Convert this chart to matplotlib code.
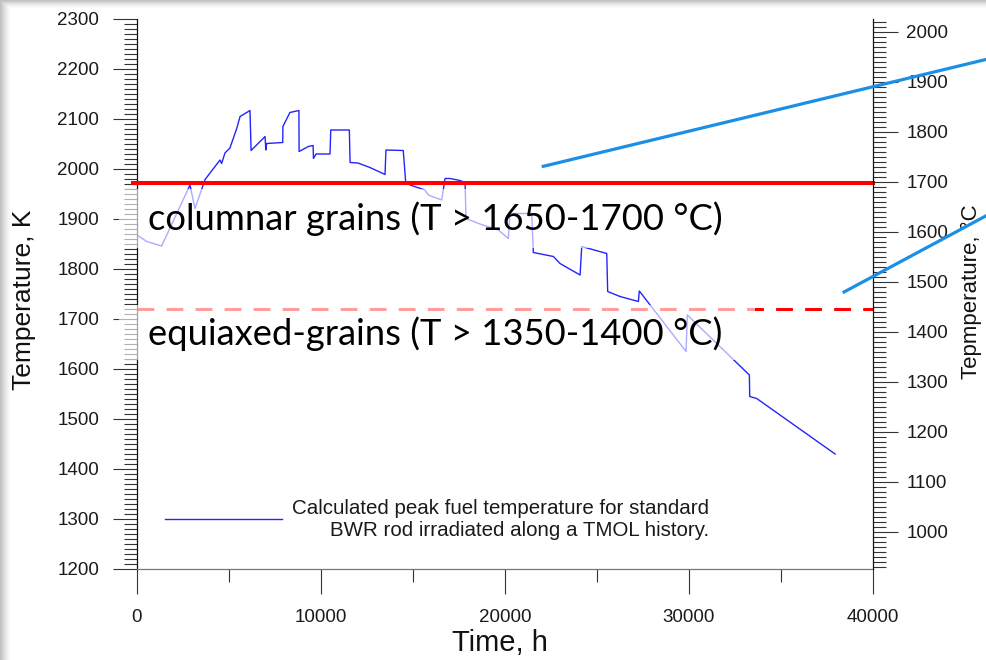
import numpy as np
import matplotlib
matplotlib.use("Agg")
import matplotlib.pyplot as plt
from matplotlib.patches import Rectangle
from matplotlib.lines import Line2D
from matplotlib.ticker import MultipleLocator

# peak fuel temperature along the irradiation history (h, K)
time_h = [0, 530, 1340, 2880, 3150, 3700, 4510, 4600, 4780, 5050, 5420, 5600, 5960, 6140,
          6200, 6500, 6960, 7000, 7050, 7920, 7930, 8310, 8800, 8810, 9310, 9570, 9590,
          9730, 10490, 10530, 11540, 11580, 12010, 12660, 13480, 13530, 14470, 14600,
          14840, 15650, 15830, 16560, 16740, 17010, 17550, 17830, 17880, 18640, 19640,
          20180, 20270, 21450, 21540, 22630, 22990, 24080, 24170, 25530, 25580, 26250,
          27250, 27300, 29840, 29910, 33280, 33300, 33680, 37940]
temp_k = [1867, 1854, 1845, 1967, 1920, 1978, 2017, 2010, 2031, 2041, 2080, 2104, 2112, 2116,
          2036, 2047, 2064, 2037, 2050, 2052, 2084, 2112, 2116, 2034, 2044, 2046, 2020,
          2029, 2029, 2077, 2077, 2012, 2011, 2002, 1988, 2037, 2036, 1974,
          1967, 1957, 1947, 1937, 1980, 1980, 1976, 1972, 1900, 1889, 1877,
          1860, 1910, 1910, 1832, 1824, 1810, 1787, 1844, 1830, 1754, 1744,
          1734, 1755, 1634, 1707, 1587, 1544, 1540, 1429]

columnar_k = 1972
equiaxed_k = 1720

legend_label = ("Calculated peak fuel temperature for standard\n"
                "BWR rod irradiated along a TMOL history.")
columnar_text = "columnar grains (T > 1650-1700 \u00b0C)"
equiaxed_text = "equiaxed-grains (T > 1350-1400 \u00b0C)"

W, H = 987, 660
fig = plt.figure(figsize=(W / 100, H / 100), dpi=100)
fig.patch.set_facecolor("white")

# soft slide shadow along the top and left edges
yy, xx = np.mgrid[0:H, 0:W]
fade = np.maximum(np.clip(1 - yy / 8.0, 0, 1), np.clip(1 - xx / 11.0, 0, 1)) ** 1.4
shadow = np.zeros((H, W, 4))
shadow[..., :3] = 0.6
shadow[..., 3] = fade * 0.6
fig.figimage(shadow, xo=0, yo=0, origin="upper")

ax = fig.add_axes([137 / W, 91.5 / H, 736 / W, 550 / H])
ax.patch.set_alpha(0)
ax.set_xlim(0, 40000)
ax.set_ylim(1200, 2300)

tick_font = "Liberation Sans"
ax.xaxis.set_major_locator(MultipleLocator(10000))
ax.xaxis.set_minor_locator(MultipleLocator(5000))
ax.yaxis.set_major_locator(MultipleLocator(100))
ax.yaxis.set_minor_locator(MultipleLocator(10))
ax.tick_params(axis="y", which="major", direction="out", length=17.3, width=0.8,
               color="#333333", pad=10, labelsize=13.5, labelcolor="#1a1a1a")
ax.tick_params(axis="y", which="minor", direction="out", length=9.4, width=0.8, color="#333333")
ax.tick_params(axis="x", which="major", direction="out", length=18, width=0.8,
               color="#333333", pad=11, labelsize=13.5, labelcolor="#1a1a1a")
ax.tick_params(axis="x", which="minor", direction="out", length=9.5, width=0.8, color="#333333")
for lab in ax.get_xticklabels() + ax.get_yticklabels():
    lab.set_fontfamily(tick_font)
ax.spines["top"].set_visible(False)
ax.spines["right"].set_visible(False)
ax.spines["left"].set_color("#111111")
ax.spines["left"].set_linewidth(0.9)
ax.spines["bottom"].set_color("#777777")
ax.spines["bottom"].set_linewidth(0.9)

ax.set_ylabel("Temperature, K", fontsize=19, family=tick_font, color="#111111")
ax.yaxis.set_label_coords(-0.137, 0.488)
ax.set_xlabel("Time, h", fontsize=21, family=tick_font, color="#111111")
ax.xaxis.set_label_coords(0.493, -0.11)

# right axis in degrees Celsius
ax2 = ax.twinx()
ax2.set_ylim(1200 - 273.15, 2300 - 273.15)
ax2.yaxis.set_major_locator(MultipleLocator(100))
ax2.yaxis.set_minor_locator(MultipleLocator(10))
ax2.set_yticks(np.arange(1000, 2001, 100))
ax2.tick_params(axis="y", which="major", direction="out", length=18, width=0.8,
                color="#333333", pad=6, labelsize=13.5, labelcolor="#1a1a1a")
ax2.tick_params(axis="y", which="minor", direction="out", length=9.4, width=0.8, color="#333333")
for lab in ax2.get_yticklabels():
    lab.set_fontfamily(tick_font)
for side in ("left", "top", "bottom"):
    ax2.spines[side].set_visible(False)
ax2.spines["right"].set_color("#111111")
ax2.spines["right"].set_linewidth(0.9)
ax2.set_ylabel("Tepmperature, \u00b0C", fontsize=16, family=tick_font, color="#111111")
ax2.yaxis.set_label_coords(1.119, 0.503)

# fuel temperature curve and legend
ax.plot(time_h, temp_k, color="#2424ff", lw=1.0, zorder=2, label=legend_label)
leg = ax.legend(loc="center left", bbox_to_anchor=(28 / 736, 49.5 / 550), frameon=False,
                borderpad=0, borderaxespad=0, handlelength=5.7, handletextpad=0.49,
                prop={"family": tick_font, "size": 14.8})
for t in leg.get_texts():
    t.set_multialignment("right")
    t.set_color("#1a1a1a")

# grain structure thresholds
ax.axhline(equiaxed_k, color="#ff0000", lw=2.2, ls=(0, (5.5, 4)), zorder=2)
ax.axhline(columnar_k, xmin=-0.006, color="#ff0000", lw=2.9, zorder=4, clip_on=False)

# translucent text boxes over the plot
for y0, y1 in ((1841, 1959), (1617, 1727)):
    ax.add_patch(Rectangle((-0.0245, (y0 - 1200) / 1100), 0.864, (y1 - y0) / 1100,
                           transform=ax.transAxes, facecolor="white", edgecolor="none",
                           alpha=0.62, zorder=3, clip_on=False))
ax.text(0.0155, (1900 - 1200) / 1100, columnar_text, transform=ax.transAxes,
        fontsize=26.2, family="Lato", va="center", ha="left", zorder=5)
ax.text(0.0155, (1670 - 1200) / 1100, equiaxed_text, transform=ax.transAxes,
        fontsize=26.2, family="Lato", va="center", ha="left", zorder=5)

# callout lines towards the Celsius axis
for (x0, y0), (x1, y1) in (((541.7, 166.7), (987, 59.2)), ((842.7, 292.7), (987, 215.3))):
    fig.add_artist(Line2D([x0 / W, x1 / W], [1 - y0 / H, 1 - y1 / H], color="#1b8fe6",
                          lw=2.3, solid_capstyle="butt", zorder=6))

fig.savefig("out.png", dpi=100)
